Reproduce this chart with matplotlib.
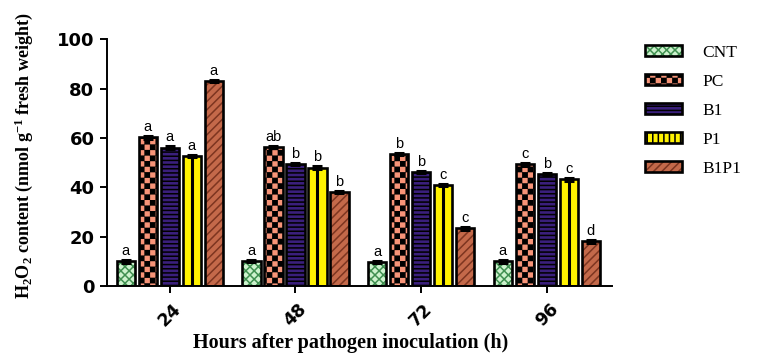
import numpy as np
import matplotlib
matplotlib.use("Agg")
import matplotlib.pyplot as plt
from matplotlib import hatch as mhatch
from matplotlib.path import Path
from matplotlib.patches import Patch
from matplotlib.legend_handler import HandlerTuple

# ---------------- data ----------------
hours = ["24", "48", "72", "96"]
series = ["CNT", "PC", "B1", "P1", "B1P1"]
cnt = [10.0, 10.2, 9.8, 10.0]
pc = [60.2, 56.4, 53.4, 49.3]
b1 = [56.1, 49.4, 46.3, 45.3]
p1 = [52.6, 48.0, 40.9, 43.2]
b1p1 = [83.0, 38.0, 23.4, 18.1]
letters_cnt = ["a", "a", "a", "a"]
letters_pc = ["a", "ab", "b", "c"]
letters_b1 = ["a", "b", "b", "b"]
letters_p1 = ["a", "b", "c", "c"]
letters_b1p1 = ["a", "b", "c", "d"]
yticks = [0, 20, 40, 60, 80, 100]

values = [cnt, pc, b1, p1, b1p1]
letters = [letters_cnt, letters_pc, letters_b1, letters_p1, letters_b1p1]


# ------------- custom checkerboard hatch (replaces 'o') -------------
class Checker(mhatch.HatchPatternBase):
    def __init__(self, hatch, density):
        self.m = hatch.count('o') * 18
        self.num_vertices = (self.m * self.m // 2) * 5

    def set_vertices_and_codes(self, vertices, codes):
        m = self.m
        s = 1.0 / m
        d = 0.0065
        vs, cs = [], []
        sq = np.array([[d, d], [s - d, d], [s - d, s - d], [d, s - d], [d, d]], float)
        sc = [Path.MOVETO, Path.LINETO, Path.LINETO, Path.LINETO, Path.CLOSEPOLY]
        for i in range(m):
            for j in range(m):
                if (i + j) % 2 == 0:
                    vs.append(sq + [i * s, j * s])
                    cs.extend(sc)
        vertices[:] = np.concatenate(vs)
        codes[:] = cs


mhatch._hatch_types = [Checker if t is mhatch.SmallCircles else t
                       for t in mhatch._hatch_types]

plt.rcParams['mathtext.fontset'] = 'custom'
plt.rcParams['mathtext.rm'] = 'Liberation Serif:bold'
plt.rcParams['mathtext.it'] = 'Liberation Serif:bold'
plt.rcParams['mathtext.bf'] = 'Liberation Serif:bold'
plt.rcParams['hatch.linewidth'] = 1.1

faces = ['#cdf2cd', '#f79478', '#3a1f7c', '#fff200', '#c4694a']
hcols = ['#3f8f50', '#000000', '#000000', '#fff200', '#7d3520']
hatches = ['xxxx', 'o', '----', '', '////']

fig = plt.figure(figsize=(7.65, 3.64), dpi=100)
ax = fig.add_axes([107 / 765, 1 - 286 / 364, (612 - 107) / 765, (286 - 39.3) / 364])

xg = np.arange(len(hours))
step = 0.175
width = 0.145
for k, (vals, lets) in enumerate(zip(values, letters)):
    xs = xg + (k - 2) * step
    ax.bar(xs, vals, width, color=faces[k], hatch=hatches[k],
           edgecolor=hcols[k], linewidth=0, zorder=2)
    if k == 3:
        ax.vlines(xs, 0, vals, color='black', linewidth=2.2, zorder=3)
    ax.bar(xs, vals, width, fill=False, edgecolor='black',
           linewidth=1.9, zorder=4)
    ax.errorbar(xs, vals, yerr=0.5, fmt='none', ecolor='black',
                elinewidth=1.5, capsize=3.5, capthick=2.2, zorder=5)
    for x, v, t in zip(xs, vals, lets):
        ax.text(x, v + 1.3, t, ha='center', va='bottom', fontsize=10.5,
                family='Liberation Sans', zorder=6)

ax.set_xlim(-0.5, 3.52)
ax.set_ylim(0, 100)
ax.set_yticks(yticks)
ax.set_xticks(xg)
ax.set_xticklabels(hours, rotation=45, ha='center', va='top',
                   fontsize=12.5, fontweight='bold', family='DejaVu Sans')
ax.set_yticklabels([str(t) for t in yticks], fontsize=13,
                   fontweight='bold', family='DejaVu Sans')
for s in ['top', 'right']:
    ax.spines[s].set_visible(False)
for s in ['left', 'bottom']:
    ax.spines[s].set_linewidth(1.4)
ax.tick_params(axis='y', length=5, width=1.4, pad=4)
ax.tick_params(axis='x', length=5, width=1.4, pad=5)

# legend
legend_handles = []
for k in range(5):
    if k == 3:
        fh = Patch(facecolor=faces[k], hatch='|||', edgecolor='black', linewidth=0)
    else:
        fh = Patch(facecolor=faces[k], hatch=hatches[k], edgecolor=hcols[k], linewidth=0)
    oh = Patch(fill=False, edgecolor='black', linewidth=1.9)
    legend_handles.append((fh, oh))
fig.legend(legend_handles, series, loc='upper left',
           bbox_to_anchor=(645 / 765, 1 - 45 / 364), bbox_transform=fig.transFigure,
           frameon=False, borderpad=0, borderaxespad=0,
           handlelength=2.15, handleheight=0.6, handletextpad=1.15,
           labelspacing=0.75,
           prop={'family': 'Liberation Serif', 'size': 12.5},
           handler_map={tuple: HandlerTuple(ndivide=1)})

fig.text(24 / 765, 1 - 156 / 364,
         r"H$_2$O$_2$ content (nmol g$^{-1}$ fresh weight)",
         rotation=90, ha='center', va='center', fontsize=13,
         family='Liberation Serif', fontweight='bold')
fig.text(351 / 765, 1 - 343 / 364, "Hours after pathogen inoculation (h)",
         ha='center', va='center', fontsize=14.5, family='Liberation Serif',
         fontweight='bold')

fig.savefig("out.png", dpi=100)
